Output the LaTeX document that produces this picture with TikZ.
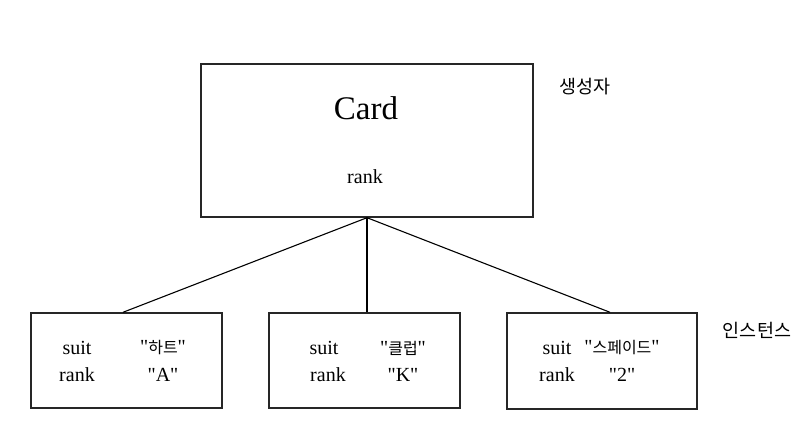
\documentclass[tikz,border=0pt]{standalone}
\usepackage{fontspec}
\setmainfont{Liberation Serif}
\newfontfamily\cjk{Noto Sans CJK KR}
\newcommand{\dq}{\textquotedbl}
\begin{document}
\begin{tikzpicture}[x=1pt,y=1pt,
  box/.style={draw=black!85, line width=1.4pt, inner sep=0pt},
  txt/.style={inner sep=0pt, font=\fontsize{20}{22}\selectfont},
  kor/.style={inner sep=0pt, font=\cjk\fontsize{18.5}{20}\selectfont},
  conn/.style={line width=1.1pt}]
\useasboundingbox (0,0) rectangle (812,445);
\node[box, minimum width=332pt, minimum height=153pt] (card) at (367,304.5) {};
\node[inner sep=0pt, font=\fontsize{33}{35}\selectfont] (cardt) at (366,337) {Card};
\node[txt] (cardr) at (365,268) {rank};
\node[kor] (ctor) at (585,358) {생성자};
\node[kor] (inst) at (757,115) {인스턴스};

\node[box, minimum width=191pt, minimum height=95pt] (b1) at (126.5,84.5) {};
\node[box, minimum width=191pt, minimum height=95pt] (b2) at (364.5,84.5) {};
\node[box, minimum width=190pt, minimum height=96pt] (b3) at (602,84) {};

\node[txt] (s1) at (77,97) {suit};
\node[txt] (r1) at (77,70) {rank};
\node[txt] (v1) at (163,97) {\dq{\cjk\fontsize{16}{18}\selectfont 하트}\dq};
\node[txt] (w1) at (163,70) {\dq A\dq};

\node[txt] (s2) at (324,97) {suit};
\node[txt] (r2) at (328,70) {rank};
\node[txt] (v2) at (403,97) {\dq{\cjk\fontsize{16}{18}\selectfont 클럽}\dq};
\node[txt] (w2) at (403,70) {\dq K\dq};

\node[txt] (s3) at (557,97) {suit};
\node[txt] (r3) at (557,70) {rank};
\node[txt] (v3) at (622,97) {\dq{\cjk\fontsize{16}{18}\selectfont 스페이드}\dq};
\node[txt] (w3) at (622,70) {\dq 2\dq};

\draw[conn] (card.south) -- ([xshift=-3.5pt]b1.north);
\draw[conn] (card.south) -- ([xshift=2.5pt]b2.north);
\draw[conn] (card.south) -- ([xshift=8pt]b3.north);
\end{tikzpicture}
\end{document}
